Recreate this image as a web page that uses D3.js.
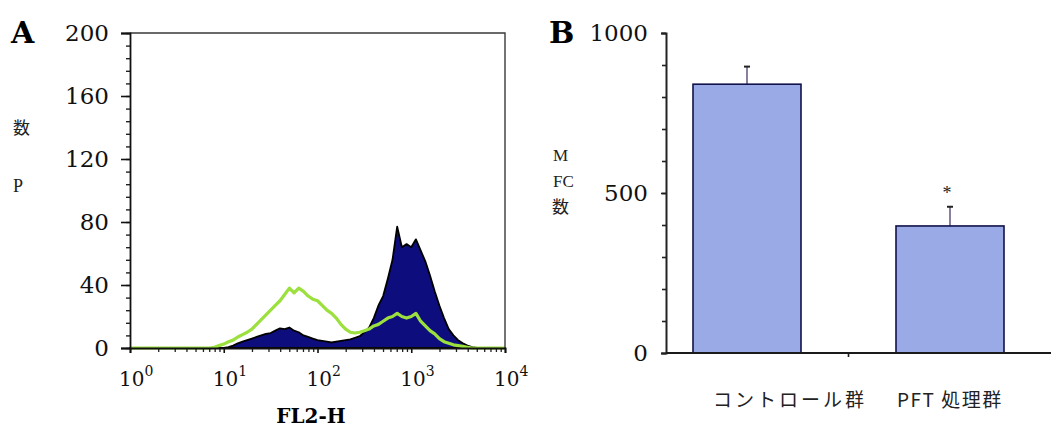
<!DOCTYPE html>
<html>
<head>
<meta charset="utf-8">
<script src="https://cdn.jsdelivr.net/npm/d3@7"></script>
<style>
  body { margin: 0; background: #fff; }
  svg { display: block; }
</style>
</head>
<body>
<div id="chart"></div>
<script>
// ---------------- data (panel A: FL2-H histogram, panel B: MFC bars)
// bin positions in decades (10^x)
const fl2Decades = [0,
  0.8,0.85,0.9,0.95,1.0,1.05,1.1,1.15,1.2,1.25,1.3,1.35,1.4,1.45,1.5,
  1.55,1.6,1.65,1.7,1.75,1.8,1.85,1.9,1.95,2.0,2.05,2.1,2.15,2.2,2.25,
  2.3,2.35,2.4,2.45,2.5,2.55,2.6,2.65,2.7,2.75,2.8,2.85,2.9,2.95,3.0,
  3.05,3.1,3.15,3.2,3.25,3.3,3.35,3.4,3.45,3.5,3.55,3.6,3.65,3.7,3.75,3.8,
  4]
// filled (navy) histogram
const pftCounts = [0,
  0,0,0,0,0,0.5,1.5,3,4,5,6,7,8,9,9.5,
  11,12.5,12,13,11,10,8,7,6,5,4.5,4,3.5,4,4.5,
  5,5.5,6.5,7.5,10,13,19,27,33,44,56,77,64,66,64,
  69,62,55,46,36,27,19,12,8,5,3,1.5,0.5,0,0,0,
  0]
// green outline histogram
const controlCounts = [0,
  0,0,0.5,1.5,2.5,4,5,7,8.5,10,12,15,18,21,24,
  27,30,34,38,35,38,36,33,31,30,27,24,22,19,15,
  12,10,9.5,10,11,12,14,15,17,19,20,22,20,19,20,
  22,17,14,11,9,6,4,3,2,1.5,1,0.5,0,0,0,0,
  0]
const countTicks = [0,40,80,120,160,200]
const fl2Ticks = [1,10,100,1000,10000]

const barGroups = ["コントロール群","PFT 処理群"]
const mfcMeans = [840,397]
const mfcErrors = [55,60]
const marks = ["","*"]
const mfcTicks = [0,500,1000]

// ---------------- layout
const width = 1051, height = 428
const serif = "'DejaVu Serif','Liberation Serif',serif"
const times = "'Liberation Serif','DejaVu Serif',serif"
const cjk = "'Noto Sans CJK JP','Noto Sans CJK SC',sans-serif"

const svg = d3.select("#chart").append("svg")
  .attr("width", width).attr("height", height)

//================ Panel A
const A = {left:130, right:505, top:33, bottom:348}

const xA = d3.scaleLog().domain([1,10000]).range([A.left, A.right])
const yA = d3.scaleLinear().domain([0,200]).range([A.bottom, A.top])

const hist = fl2Decades.map((d,i) => ({v: Math.pow(10,d), pft: pftCounts[i], ctl: controlCounts[i]}))

const gA = svg.append("g")

gA.append("path")
  .datum(hist)
  .attr("d", d3.area().x(d => xA(d.v)).y0(yA(0)).y1(d => yA(d.pft)))
  .attr("fill", "#0d0d7e")
  .attr("stroke", "#000")
  .attr("stroke-width", 1.8)
  .attr("stroke-linejoin", "round")

gA.append("path")
  .datum(hist)
  .attr("d", d3.line().x(d => xA(d.v)).y(d => yA(d.ctl)))
  .attr("fill", "none")
  .attr("stroke", "#9be03c")
  .attr("stroke-width", 3.2)
  .attr("stroke-linejoin", "round")

// frame top/right
gA.append("path")
  .attr("d", `M${A.left},${A.top}H${A.right}V${A.bottom}`)
  .attr("fill","none").attr("stroke","#3a3a3a").attr("stroke-width",1.4)

// y axis
const minorCount = d3.range(0,201,8)
gA.append("g")
  .attr("transform",`translate(${A.left},0)`)
  .call(d3.axisLeft(yA).tickValues(minorCount).tickSize(4).tickFormat(""))
  .call(g => g.select(".domain").remove())
  .selectAll("line").attr("stroke","#222").attr("stroke-width",1.4)

const yAxisA = gA.append("g")
  .attr("transform",`translate(${A.left},0)`)
  .call(d3.axisLeft(yA).tickValues(countTicks).tickSize(9).tickPadding(12))
yAxisA.select(".domain").attr("stroke","#111").attr("stroke-width",1.8)
yAxisA.selectAll("line").attr("stroke","#111").attr("stroke-width",1.6)
yAxisA.selectAll("text")
  .style("font-family", serif).style("font-size","23px").attr("fill","#111")

// x axis
const minorFl2 = []
fl2Ticks.slice(0,4).forEach(p => d3.range(2,10).forEach(k => minorFl2.push(p*k)))
gA.append("g")
  .attr("transform",`translate(0,${A.bottom})`)
  .call(d3.axisBottom(xA).tickValues(minorFl2).tickSize(4).tickFormat(""))
  .call(g => g.select(".domain").remove())
  .selectAll("line").attr("stroke","#222").attr("stroke-width",1.3)

const xAxisA = gA.append("g")
  .attr("transform",`translate(0,${A.bottom})`)
  .call(d3.axisBottom(xA).tickValues(fl2Ticks).tickSize(5).tickFormat(""))
xAxisA.select(".domain").attr("stroke","#111").attr("stroke-width",1.8)
xAxisA.selectAll("line").attr("stroke","#111").attr("stroke-width",1.6)

const expLabels = gA.selectAll(".explabel")
  .data(fl2Ticks)
  .join("text")
  .attr("class","explabel")
  .attr("x", d => xA(d) - 11)
  .attr("y", 386)
  .style("font-family", serif).style("font-size","20px").attr("fill","#111")
expLabels.append("tspan").text("10")
expLabels.append("tspan")
  .attr("dy",-10).style("font-size","14px")
  .text(d => Math.round(Math.log10(d)))

gA.append("text")
  .attr("x", 311).attr("y", 423)
  .attr("text-anchor","middle")
  .style("font-family", serif).style("font-size","20px").style("font-weight","bold")
  .text("FL2-H")

gA.append("text").attr("x",11).attr("y",43)
  .style("font-family", serif).style("font-size","30px").style("font-weight","bold")
  .text("A")
gA.append("text").attr("x",13).attr("y",134)
  .style("font-family", cjk).style("font-size","17px").attr("fill","#222")
  .text("数")
gA.append("text").attr("x",13).attr("y",192)
  .style("font-family", times).style("font-size","18px").attr("fill","#222")
  .text("P")

//================ Panel B
const B = {left:666, top:33, bottom:353}

const yB = d3.scaleLinear().domain([0,1000]).range([B.bottom, B.top])
const xB = d3.scaleBand().domain(barGroups).range([B.left, 1031])
  .paddingInner(0.468).paddingOuter(0.133)

const bars = barGroups.map((g,i) => ({g, mean: mfcMeans[i], err: mfcErrors[i], mark: marks[i]}))
const gB = svg.append("g")

// error bars
gB.selectAll(".err")
  .data(bars)
  .join("line")
  .attr("x1", d => xB(d.g) + xB.bandwidth()/2)
  .attr("x2", d => xB(d.g) + xB.bandwidth()/2)
  .attr("y1", d => yB(d.mean))
  .attr("y2", d => yB(d.mean + d.err))
  .attr("stroke","#4a3a6a").attr("stroke-width",1.3)
gB.selectAll(".cap")
  .data(bars)
  .join("line")
  .attr("x1", d => xB(d.g) + xB.bandwidth()/2 - 3)
  .attr("x2", d => xB(d.g) + xB.bandwidth()/2 + 3)
  .attr("y1", d => yB(d.mean + d.err))
  .attr("y2", d => yB(d.mean + d.err))
  .attr("stroke","#222").attr("stroke-width",2)

gB.selectAll("rect")
  .data(bars)
  .join("rect")
  .attr("x", d => xB(d.g))
  .attr("y", d => yB(d.mean))
  .attr("width", xB.bandwidth())
  .attr("height", d => yB(0) - yB(d.mean))
  .attr("fill","#9aaae6")
  .attr("stroke","#12124a")
  .attr("stroke-width",1.6)

gB.selectAll(".mark")
  .data(bars.filter(d => d.mark))
  .join("text")
  .attr("x", d => xB(d.g) + xB.bandwidth()/2 - 3)
  .attr("y", d => yB(d.mean + d.err) - 8)
  .attr("text-anchor","middle")
  .style("font-family", times).style("font-size","18px").attr("fill","#222")
  .text(d => d.mark)

// y axis
gB.append("g")
  .attr("transform",`translate(${B.left},0)`)
  .call(d3.axisLeft(yB).tickValues(d3.range(0,1001,100)).tickSize(4).tickFormat(""))
  .call(g => g.select(".domain").remove())
  .selectAll("line").attr("stroke","#222").attr("stroke-width",1.6)
const yAxisB = gB.append("g")
  .attr("transform",`translate(${B.left},0)`)
  .call(d3.axisLeft(yB).tickValues(mfcTicks).tickSize(5).tickPadding(13).tickFormat(d3.format("d")))
yAxisB.select(".domain").attr("stroke","#222").attr("stroke-width",2)
yAxisB.selectAll("line").attr("stroke","#222").attr("stroke-width",1.6)
yAxisB.selectAll("text")
  .style("font-family", serif).style("font-size","23px").attr("fill","#111")

// x baseline with middle tick
gB.append("line")
  .attr("x1", B.left).attr("x2", width)
  .attr("y1", B.bottom).attr("y2", B.bottom)
  .attr("stroke","#1a1a1a").attr("stroke-width",2)
const midTick = xB(barGroups[0]) + xB.step() - (xB.step() - xB.bandwidth())/2
gB.append("line")
  .attr("x1", midTick).attr("x2", midTick)
  .attr("y1", B.bottom).attr("y2", B.bottom + 4)
  .attr("stroke","#1a1a1a").attr("stroke-width",1.6)

// category labels
const labelStart = [20, 1]
const labelSpacing = [3, 1.5]
gB.selectAll(".cat")
  .data(bars)
  .join("text")
  .attr("x", (d,i) => xB(d.g) + labelStart[i])
  .attr("y", 407)
  .style("font-family", cjk).style("font-size","19px")
  .style("letter-spacing", (d,i) => labelSpacing[i] + "px")
  .attr("fill","#222")
  .text(d => d.g)

gB.append("text").attr("x",549).attr("y",43)
  .style("font-family", serif).style("font-size","30px").style("font-weight","bold")
  .text("B")
gB.append("text").attr("x",553).attr("y",161)
  .style("font-family", times).style("font-size","17px").attr("fill","#222")
  .text("M")
gB.append("text").attr("x",553).attr("y",187)
  .style("font-family", times).style("font-size","17px").attr("fill","#222")
  .text("FC")
gB.append("text").attr("x",552).attr("y",213)
  .style("font-family", cjk).style("font-size","17px").attr("fill","#222")
  .text("数")
</script>
</body>
</html>
